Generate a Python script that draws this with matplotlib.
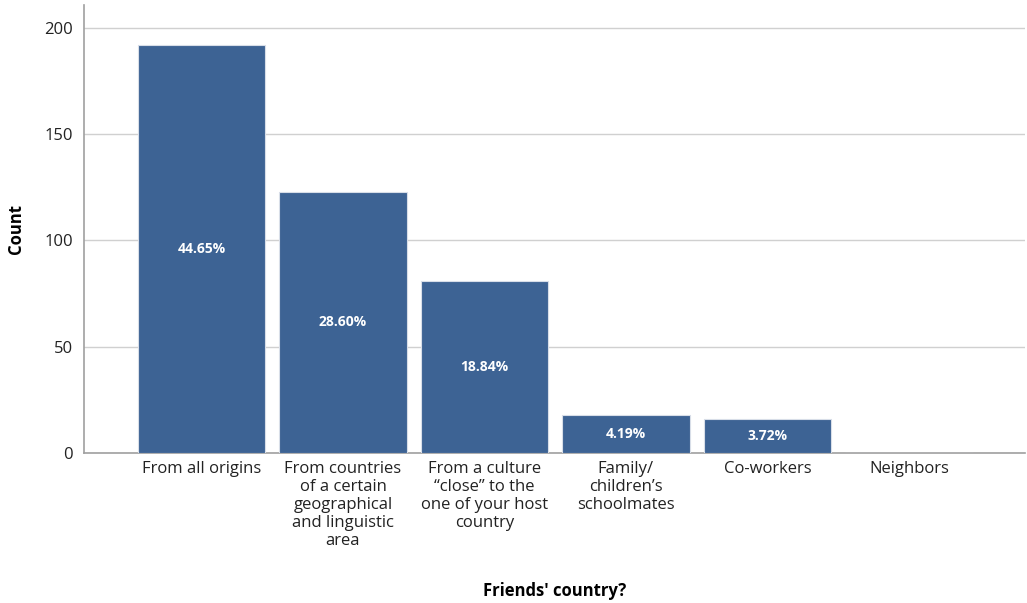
import matplotlib.pyplot as plt

categories = [
    "From all origins",
    "From countries\nof a certain\ngeographical\nand linguistic\narea",
    "From a culture\n\u201cclose\u201d to the\none of your host\ncountry",
    "Family/\nchildren\u2019s\nschoolmates",
    "Co-workers",
    "Neighbors",
]
counts = [192, 123, 81, 18, 16, 0]
pct_labels = ["44.65%", "28.60%", "18.84%", "4.19%", "3.72%", ""]

plt.rcParams['font.family'] = ['Open Sans', 'DejaVu Sans']

fig = plt.figure(figsize=(10.27, 6.03), dpi=100)
ax = fig.add_axes([0.0818, 0.2488, 0.9162, 0.7429])

x = range(len(categories))
bars = ax.bar(x, counts, width=0.9, color="#3d6394", edgecolor="#d8dee8", linewidth=0.8, zorder=3)

for b, lab in zip(bars, pct_labels):
    if lab:
        ax.text(b.get_x() + b.get_width() / 2, b.get_height() / 2, lab,
                ha="center", va="center", color="white", fontsize=10, fontweight="bold", zorder=4)

ax.set_xlim(-0.83, 5.82)
ax.set_ylim(0, 210.8)
ax.set_yticks([0, 50, 100, 150, 200])
ax.set_xticks(list(x))
ax.set_xticklabels(categories, fontsize=12, color="#222222", linespacing=1.15)
ax.tick_params(axis="y", length=0, labelsize=12, labelcolor="#222222", pad=8)
ax.tick_params(axis="x", length=0, pad=6)

ax.grid(axis="y", color="#d0d0d0", linewidth=1, zorder=0)
for s in ["top", "right"]:
    ax.spines[s].set_visible(False)
for s in ["left", "bottom"]:
    ax.spines[s].set_color("#a0a0a0")
    ax.spines[s].set_linewidth(1.2)

ax.set_ylabel("Count", fontsize=12, fontweight="bold", labelpad=14)
ax.set_xlabel("Friends' country?", fontsize=12, fontweight="bold", labelpad=24)

fig.savefig("out.png", dpi=100)
